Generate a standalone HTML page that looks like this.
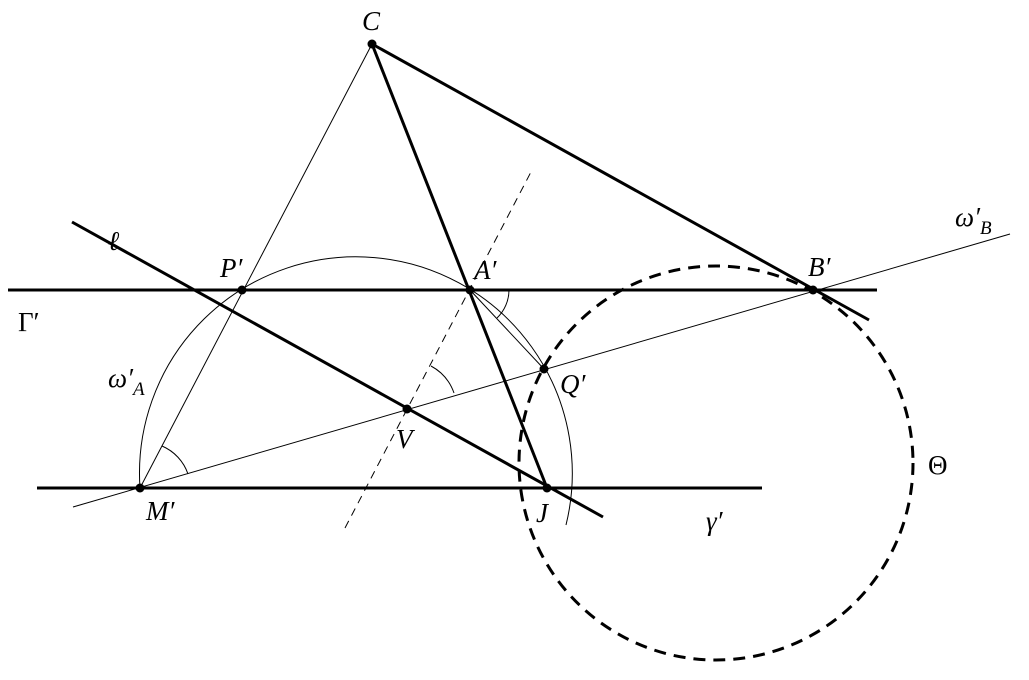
<!DOCTYPE html><html><head><style>body{margin:0;background:#fff}svg text{font-family:"Liberation Serif",serif;font-style:italic;font-size:27px}</style></head><body>
<svg width="1029" height="675" viewBox="0 0 1029 675" xmlns="http://www.w3.org/2000/svg">
<g stroke="#000" fill="none">
<line x1="8" y1="290" x2="877" y2="290" stroke-width="3"/>
<line x1="37" y1="488" x2="762" y2="488" stroke-width="3"/>
<line x1="72" y1="222" x2="603" y2="517" stroke-width="3"/>
<line x1="372" y1="44" x2="869" y2="320" stroke-width="3"/>
<line x1="372" y1="44" x2="547" y2="488" stroke-width="3"/>
<line x1="372" y1="44" x2="140" y2="488" stroke-width="1"/>
<line x1="73" y1="507" x2="1010" y2="234" stroke-width="1"/>
<line x1="345" y1="528" x2="532" y2="170" stroke-width="1" stroke-dasharray="8,6"/>
<line x1="470" y1="290" x2="544" y2="369" stroke-width="1"/>
<circle cx="716" cy="463" r="197" stroke-width="3" stroke-dasharray="12,8"/>
<path d="M140 488 A216.4 216.4 0 1 1 566 525" stroke-width="1"/>
<path d="M509 290 A39 39 0 0 1 497 318" stroke-width="1"/>
<path d="M162 446 A47 47 0 0 1 188 474" stroke-width="1"/>
<path d="M431 366 A49 49 0 0 1 454 393" stroke-width="1"/>
</g>
<g fill="#000">
<circle cx="372" cy="44" r="4.5"/><circle cx="242" cy="290" r="4.5"/><circle cx="470" cy="290" r="4.5"/><circle cx="813" cy="290" r="4.5"/><circle cx="140" cy="488" r="4.5"/><circle cx="547" cy="488" r="4.5"/><circle cx="407" cy="409" r="4.5"/><circle cx="544" cy="369" r="4.5"/>
<text x="362" y="30">C</text>
<text x="220" y="277">P′</text>
<text x="474" y="279">A′</text>
<text x="808" y="276">B′</text>
<text x="18" y="331" style="font-style:normal">Γ′</text>
<text x="108" y="387">ω′<tspan font-size="19" dy="8">A</tspan></text>
<text x="108" y="250">ℓ</text>
<text x="955" y="226">ω′<tspan font-size="19" dy="8">B</tspan></text>
<text x="560" y="393">Q′</text>
<text x="396" y="448">V</text>
<text x="146" y="520">M′</text>
<text x="536" y="522">J</text>
<text x="706" y="530">γ′</text>
<text x="928" y="474" style="font-style:normal">Θ</text>
</g>
</svg></body></html>
